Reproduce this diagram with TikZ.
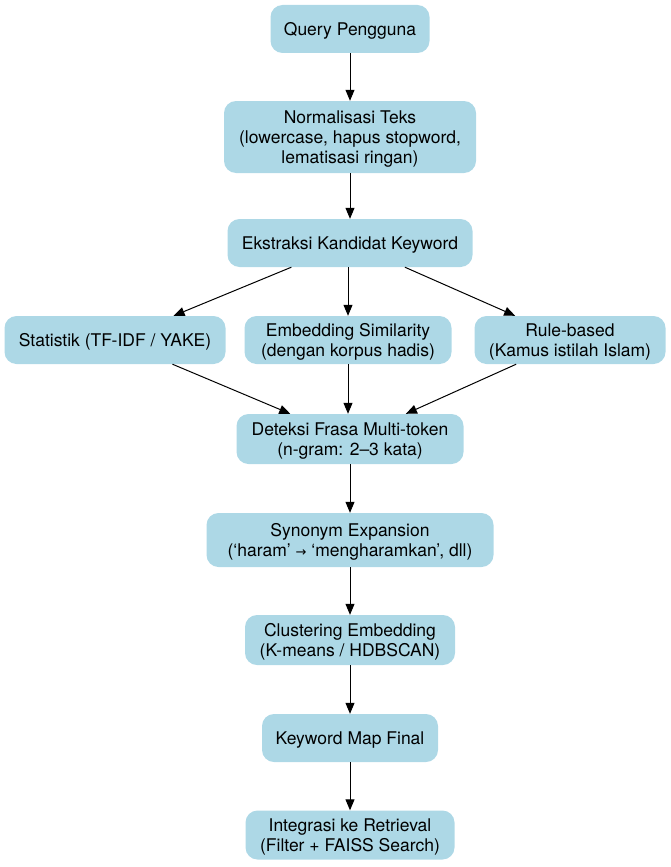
\documentclass[tikz,border=0pt]{standalone}
\usepackage{fontspec}
\setmainfont{TeX Gyre Heros}
\newfontfamily\arrowfont{DejaVu Sans}
\usetikzlibrary{arrows.meta}
\tikzset{
  box/.style={fill={rgb,255:red,173;green,216;blue,230}, rounded corners=12pt, align=center, inner sep=0pt,
    text depth=-2pt, font=\fontsize{17.5}{20}\selectfont},
  edge/.style={draw=black, line width=1pt, -{Triangle[length=11pt,width=9pt]}}
}
\begin{document}
\begin{tikzpicture}[x=1pt,y=-1pt]
\useasboundingbox (0,0) rectangle (671,867);
\node[box, minimum width=159pt, minimum height=48pt] (q) at (350,29) {Query Pengguna};
\node[box, minimum width=252pt, minimum height=72pt] (n) at (350,137) {Normalisasi Teks\\(lowercase, hapus stopword,\\lematisasi ringan)};
\node[box, minimum width=245pt, minimum height=48pt] (e) at (350,243) {Ekstraksi Kandidat Keyword};
\node[box, minimum width=221pt, minimum height=48pt] (s) at (115,340) {Statistik (TF-IDF / YAKE)};
\node[box, minimum width=207pt, minimum height=48pt] (em) at (348,340) {Embedding Similarity\\(dengan korpus hadis)};
\node[box, minimum width=191pt, minimum height=48pt] (r) at (570,340) {Rule-based\\(Kamus istilah Islam)};
\node[box, minimum width=227pt, minimum height=50pt] (d) at (350,439) {Deteksi Frasa Multi-token\\(n-gram: 2–3 kata)};
\node[box, minimum width=287pt, minimum height=54pt] (sy) at (350,540) {Synonym Expansion\\(‘haram’ {\arrowfont\fontsize{13}{20}\selectfont →} ‘mengharamkan’, dll)};
\node[box, minimum width=210pt, minimum height=50pt] (c) at (350,640) {Clustering Embedding\\(K-means / HDBSCAN)};
\node[box, minimum width=176pt, minimum height=48pt] (k) at (350,738) {Keyword Map Final};
\node[box, minimum width=209pt, minimum height=49pt] (i) at (350,835) {Integrasi ke Retrieval\\(Filter + FAISS Search)};
\draw[edge] (q) -- (n);
\draw[edge] (n) -- (e);
\draw[edge] (e) -- (s);
\draw[edge] (e.south -| em) -- (em);
\draw[edge] (e) -- (r);
\draw[edge] (s) -- (d);
\draw[edge] (em) -- (d.north -| em);
\draw[edge] (r) -- (d);
\draw[edge] (d) -- (sy);
\draw[edge] (sy) -- (c);
\draw[edge] (c) -- (k);
\draw[edge] (k) -- (i);
\end{tikzpicture}
\end{document}
